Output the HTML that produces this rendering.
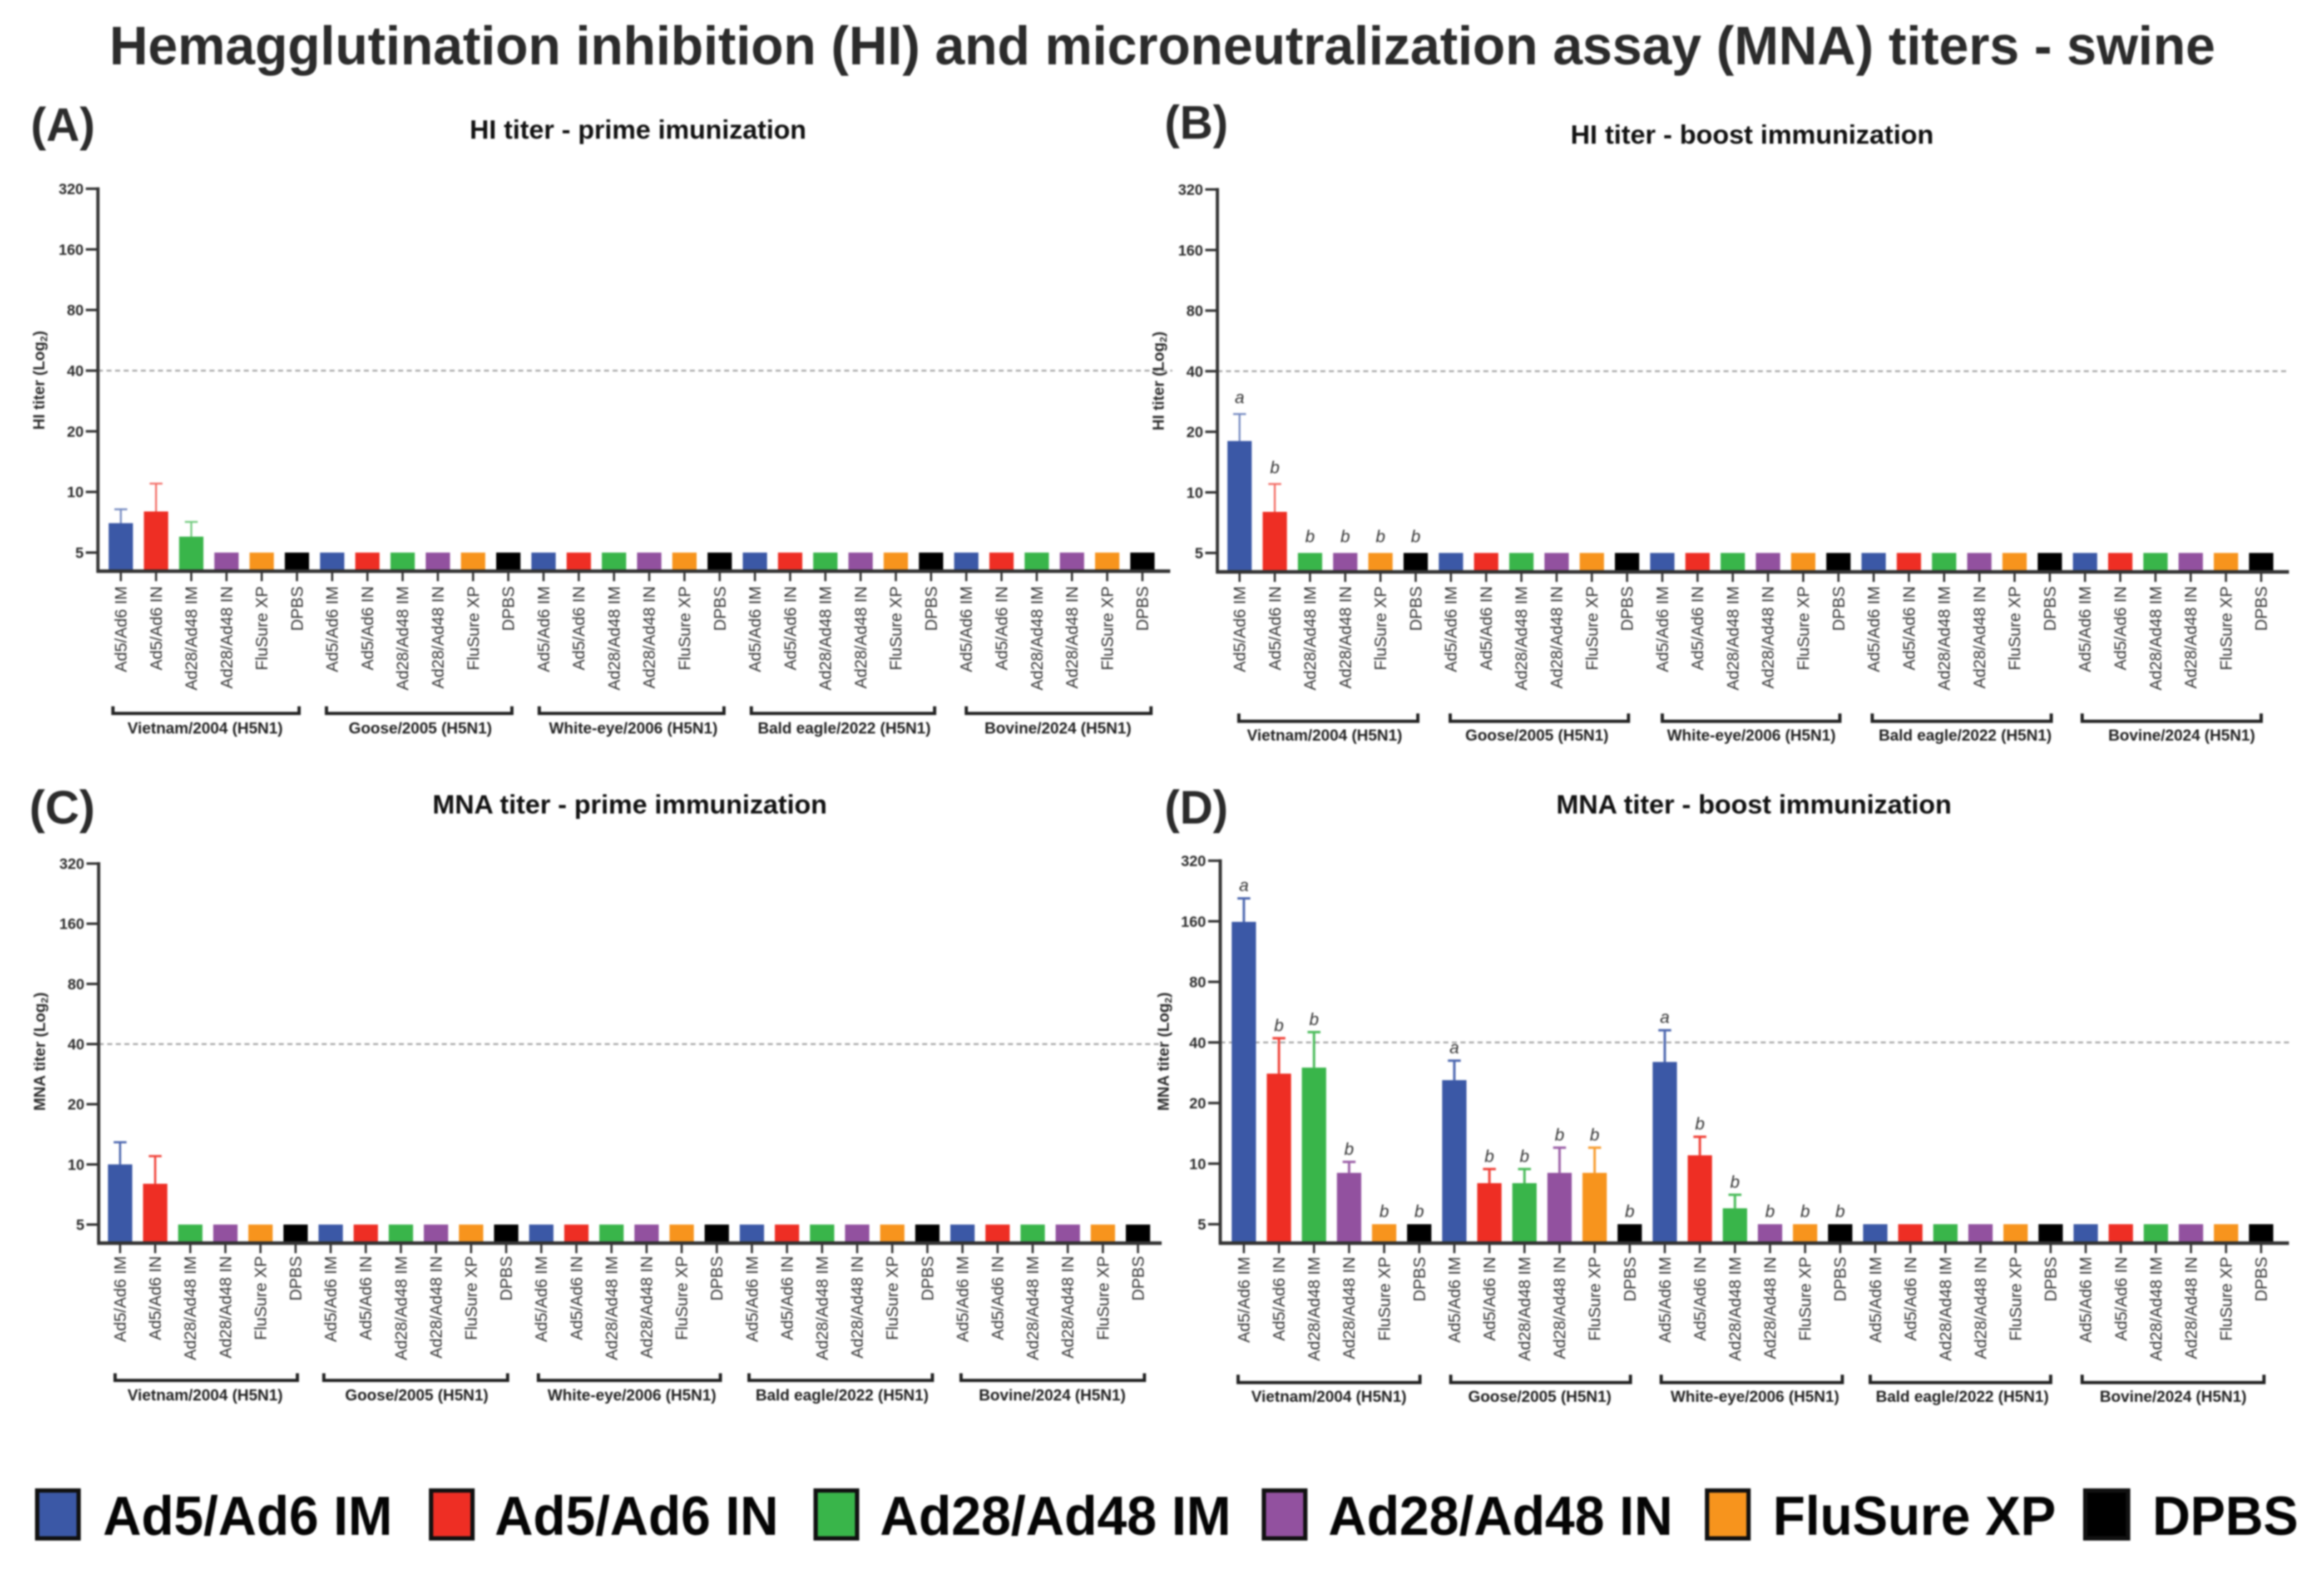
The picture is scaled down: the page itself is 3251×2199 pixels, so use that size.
<!DOCTYPE html>
<html lang="en">
<head>
<meta charset="utf-8">
<title>HI and MNA titers - swine</title>
<style>
  html, body { margin: 0; padding: 0; background: #fff; }
  body { width: 3251px; height: 2199px; overflow: hidden; }
  svg { display: block; filter: blur(1px); }
  text { font-family: "Liberation Sans", sans-serif; }
</style>
</head>
<body>
<svg id="figure" xmlns="http://www.w3.org/2000/svg" width="3251" height="2199" viewBox="0 0 3251 2199">
  <rect x="0" y="0" width="3251" height="2199" fill="#ffffff"/>
  <text x="153" y="90" font-size="76" font-weight="bold" fill="#2b2b2b" textLength="2946" lengthAdjust="spacingAndGlyphs">Hemagglutination inhibition (HI) and microneutralization assay (MNA) titers - swine</text>

  <text x="43" y="197" font-size="66" font-weight="bold" fill="#2b2b2b" textLength="90" lengthAdjust="spacingAndGlyphs">(A)</text>
  <text x="1629" y="194" font-size="66" font-weight="bold" fill="#2b2b2b" textLength="89" lengthAdjust="spacingAndGlyphs">(B)</text>
  <text x="41" y="1152" font-size="66" font-weight="bold" fill="#2b2b2b" textLength="92" lengthAdjust="spacingAndGlyphs">(C)</text>
  <text x="1629" y="1152" font-size="66" font-weight="bold" fill="#2b2b2b" textLength="89" lengthAdjust="spacingAndGlyphs">(D)</text>

  <text x="657" y="194" font-size="37" font-weight="bold" fill="#111111" textLength="471" lengthAdjust="spacingAndGlyphs">HI titer - prime imunization</text>
  <text x="2197" y="201" font-size="37" font-weight="bold" fill="#111111" textLength="508" lengthAdjust="spacingAndGlyphs">HI titer - boost immunization</text>
  <text x="605" y="1138" font-size="37" font-weight="bold" fill="#111111" textLength="552" lengthAdjust="spacingAndGlyphs">MNA titer - prime immunization</text>
  <text x="2177" y="1138" font-size="37" font-weight="bold" fill="#111111" textLength="553" lengthAdjust="spacingAndGlyphs">MNA titer - boost immunization</text>

  <g id="panels"></g>

  <g font-size="77" font-weight="bold" fill="#050505">
    <g>
      <rect x="52" y="2085" width="58" height="67" fill="#3b58a6" stroke="#111" stroke-width="6"/>
      <text x="144" y="2147" textLength="405" lengthAdjust="spacingAndGlyphs">Ad5/Ad6 IM</text>
    </g>
    <g>
      <rect x="603" y="2085" width="58" height="67" fill="#ee2e24" stroke="#111" stroke-width="6"/>
      <text x="692" y="2147" textLength="397" lengthAdjust="spacingAndGlyphs">Ad5/Ad6 IN</text>
    </g>
    <g>
      <rect x="1141" y="2085" width="58" height="67" fill="#39b54a" stroke="#111" stroke-width="6"/>
      <text x="1231" y="2147" textLength="491" lengthAdjust="spacingAndGlyphs">Ad28/Ad48 IM</text>
    </g>
    <g>
      <rect x="1768" y="2085" width="58" height="67" fill="#92519f" stroke="#111" stroke-width="6"/>
      <text x="1858" y="2147" textLength="482" lengthAdjust="spacingAndGlyphs">Ad28/Ad48 IN</text>
    </g>
    <g>
      <rect x="2388" y="2085" width="58" height="67" fill="#f7941d" stroke="#111" stroke-width="6"/>
      <text x="2480" y="2147" textLength="396" lengthAdjust="spacingAndGlyphs">FluSure XP</text>
    </g>
    <g>
      <rect x="2917" y="2085" width="60" height="67" fill="#000" stroke="#111" stroke-width="6"/>
      <text x="3011" y="2147" textLength="204" lengthAdjust="spacingAndGlyphs">DPBS</text>
    </g>
  </g>
</svg>

<script>
// ---- chart data ----
const vaccineGroups = ['Ad5/Ad6 IM', 'Ad5/Ad6 IN', 'Ad28/Ad48 IM', 'Ad28/Ad48 IN', 'FluSure XP', 'DPBS'];
const vaccineColors = ['#3b58a6', '#ee2e24', '#39b54a', '#92519f', '#f7941d', '#000000'];
const strainNames = ['Vietnam/2004 (H5N1)', 'Goose/2005 (H5N1)', 'White-eye/2006 (H5N1)', 'Bald eagle/2022 (H5N1)', 'Bovine/2024 (H5N1)'];
const yTickValues = [5, 10, 20, 40, 80, 160, 320];
const thresholdValue = 40;

const panelAValues = [7, 8, 6, 5, 5, 5,  5, 5, 5, 5, 5, 5,  5, 5, 5, 5, 5, 5,  5, 5, 5, 5, 5, 5,  5, 5, 5, 5, 5, 5];
const panelAErrors = [8.2, 11, 7.1, null, null, null,  null, null, null, null, null, null,  null, null, null, null, null, null,  null, null, null, null, null, null,  null, null, null, null, null, null];
const panelALetters = [];

const panelBValues = [18, 8, 5, 5, 5, 5,  5, 5, 5, 5, 5, 5,  5, 5, 5, 5, 5, 5,  5, 5, 5, 5, 5, 5,  5, 5, 5, 5, 5, 5];
const panelBErrors = [24.5, 11, null, null, null, null,  null, null, null, null, null, null,  null, null, null, null, null, null,  null, null, null, null, null, null,  null, null, null, null, null, null];
const panelBLetters = ['a', 'b', 'b', 'b', 'b', 'b'];

const panelCValues = [10, 8, 5, 5, 5, 5,  5, 5, 5, 5, 5, 5,  5, 5, 5, 5, 5, 5,  5, 5, 5, 5, 5, 5,  5, 5, 5, 5, 5, 5];
const panelCErrors = [12.9, 11, null, null, null, null,  null, null, null, null, null, null,  null, null, null, null, null, null,  null, null, null, null, null, null,  null, null, null, null, null, null];
const panelCLetters = [];

const panelDValues = [159, 28, 30, 9, 5, 5,  26, 8, 8, 9, 9, 5,  32, 11, 6, 5, 5, 5,  5, 5, 5, 5, 5, 5,  5, 5, 5, 5, 5, 5];
const panelDErrors = [208, 42, 45, 10.2, null, null,  32.5, 9.4, 9.4, 12, 12, null,  46, 13.6, 7, null, null, null,  null, null, null, null, null, null,  null, null, null, null, null, null];
const panelDLetters = ['a', 'b', 'b', 'b', 'b', 'b',  'a', 'b', 'b', 'b', 'b', 'b',  'a', 'b', 'b', 'b', 'b', 'b'];

const panelASeries = { values: panelAValues, errors: panelAErrors, letters: panelALetters };
const panelBSeries = { values: panelBValues, errors: panelBErrors, letters: panelBLetters };
const panelCSeries = { values: panelCValues, errors: panelCErrors, letters: panelCLetters };
const panelDSeries = { values: panelDValues, errors: panelDErrors, letters: panelDLetters };

// ---- layout, kept apart from the data ----
const layouts = [
  { id: 'a', series: panelASeries, yTitle: 'HI titer (Log', axisX: 137, axisEnd: 1637, y320: 264, y5: 773, base: 799, first: 169, step: 49.28,
    dashFrom: 137, dashTo: 1640, labelTop: 820, titleX: 54, titleY: 532, brTop: 988, brBottom: 998, groupY: 1026, errW: 2.6, errOp: 0.7, letterGap: 10,
    inset: [[-11, 3], [-8, 5], [-6, 6], [-5, 5], [0, 12]], groupX: [287, 588, 886, 1181, 1480] },
  { id: 'b', series: panelBSeries, yTitle: 'HI titer (Log', axisX: 1703, axisEnd: 3202, y320: 265, y5: 773.5, base: 800, first: 1734, step: 49.28,
    dashFrom: 1703, dashTo: 3203, labelTop: 820, titleX: 1620, titleY: 533, brTop: 998, brBottom: 1009, groupY: 1036, errW: 2.6, errOp: 0.7, letterGap: 15,
    inset: [[-1, 3], [-1, 2], [0, 2], [-2, 2], [-4, 0]], groupX: [1853, 2150, 2450, 2749, 3052] },
  { id: 'c', series: panelCSeries, yTitle: 'MNA titer (Log', axisX: 138, axisEnd: 1625, y320: 1208, y5: 1713, base: 1739, first: 168, step: 49.1,
    dashFrom: 138, dashTo: 1625, labelTop: 1757, titleX: 55, titleY: 1471, brTop: 1921, brBottom: 1931, groupY: 1959, errW: 3, errOp: 0.9, letterGap: 10,
    inset: [[-7, 2.5], [-9.6, 2], [-4, 5], [-4, 7], [-2, 9]], groupX: [287, 583, 884, 1178, 1472] },
  { id: 'd', series: panelDSeries, yTitle: 'MNA titer (Log', axisX: 1707, axisEnd: 3202, y320: 1204, y5: 1712.5, base: 1739, first: 1740, step: 49.07,
    dashFrom: 1707, dashTo: 3203, labelTop: 1758, titleX: 1627, titleY: 1471, brTop: 1923, brBottom: 1934, groupY: 1961, errW: 3.4, errOp: 0.9, letterGap: 10,
    inset: [[-8, 1], [-5, 1], [-5, 3], [-7, 0], [-5, 4]], groupX: [1859, 2154, 2455, 2745, 3040] }
];

const SVG_NS = 'http://www.w3.org/2000/svg';
const AXIS_COLOR = '#333333';
const BAR_WIDTH = 34;
const CAP_HALF = 9;

function make(tag, parent, props, text) {
  const node = document.createElementNS(SVG_NS, tag);
  Object.keys(props).forEach(function (k) { node.setAttribute(k, props[k]); });
  if (text !== undefined) node.textContent = text;
  parent.appendChild(node);
  return node;
}

function drawPanel(p) {
  const root = document.getElementById('panels');
  const stepY = (p.y5 - p.y320) / Math.log2(320 / 5);
  const yScale = function (v) { return p.y5 - Math.log2(v / 5) * stepY; };
  const xScale = function (i) { return p.first + i * p.step; };
  const s = p.series;

  const g = make('g', root, {});
  
  

  // threshold line sits behind the bars
  const dash = make('line', g, { x1: p.dashFrom, x2: p.dashTo, y1: yScale(thresholdValue), y2: yScale(thresholdValue), stroke: '#a6a6a6', 'stroke-width': 2.5, 'stroke-dasharray': '7 5' });
  
  

  // error bars
  s.errors.forEach(function (e, i) {
    if (e === null || e === undefined) return;
    const colour = vaccineColors[i % 6];
    const cx = xScale(i);
    const yTop = yScale(e);
    const err = make('path', g, { d: 'M' + cx + ' ' + yScale(s.values[i]) + 'V' + yTop + 'M' + (cx - CAP_HALF) + ' ' + yTop + 'H' + (cx + CAP_HALF), stroke: colour, 'stroke-width': p.errW, 'stroke-opacity': p.errOp, fill: 'none' });
    
    
  });

  // bars
  s.values.forEach(function (v, i) {
    const top = yScale(v);
    const bar = make('rect', g, { x: xScale(i) - BAR_WIDTH / 2, y: top, width: BAR_WIDTH, height: p.base - top, fill: vaccineColors[i % 6] });
    
    
  });

  // significance letters
  s.letters.forEach(function (l, i) {
    const topVal = (s.errors[i] === null || s.errors[i] === undefined) ? s.values[i] : s.errors[i];
    const letter = make('text', g, { x: xScale(i), y: yScale(topVal) - p.letterGap, 'font-size': 24, 'font-style': 'italic', 'text-anchor': 'middle', fill: '#333333' }, l);
    
    
  });

  // y axis
  const yAxis = make('line', g, { x1: p.axisX, x2: p.axisX, y1: p.y320 - 2, y2: p.base + 2, stroke: AXIS_COLOR, 'stroke-width': 4.5 });
  
  

  yTickValues.forEach(function (t) {
    const y = yScale(t);
    const tick = make('line', g, { x1: p.axisX - 17, x2: p.axisX, y1: y, y2: y, stroke: AXIS_COLOR, 'stroke-width': 3.5 });
    
    
    const tl = make('text', g, { x: p.axisX - 20, y: y + 7.5, 'font-size': 21, 'font-weight': 'bold', 'text-anchor': 'end', fill: '#2b2b2b' }, String(t));
    
    
  });

  // y axis title with a subscript 2
  const yt = make('text', g, { x: p.titleX + 8, y: p.titleY, 'font-size': 22, 'font-weight': 'bold', 'text-anchor': 'middle', fill: '#2b2b2b', transform: 'rotate(-90 ' + (p.titleX + 8) + ' ' + p.titleY + ')' }, p.yTitle);
  
  
  make('tspan', yt, { 'font-size': 14, dy: 4 }, '2');
  make('tspan', yt, { dy: -4 }, ')');

  // x axis
  const xAxis = make('line', g, { x1: p.axisX - 2, x2: p.axisEnd, y1: p.base, y2: p.base, stroke: AXIS_COLOR, 'stroke-width': 5 });
  
  

  s.values.forEach(function (v, i) {
    const cx = xScale(i);
    const tick = make('line', g, { x1: cx, x2: cx, y1: p.base, y2: p.base + 14, stroke: AXIS_COLOR, 'stroke-width': 3 });
    
    
    const lx = cx + 8;
    const lab = make('text', g, { x: lx, y: p.labelTop, 'font-size': 23, 'text-anchor': 'end', fill: '#333333', transform: 'rotate(-90 ' + lx + ' ' + p.labelTop + ')' }, vaccineGroups[i % 6]);
    
    
  });

  // strain brackets and labels
  strainNames.forEach(function (name, k) {
    const x1 = xScale(k * 6) + p.inset[k][0];
    const x2 = xScale(k * 6 + 5) + p.inset[k][1];
    const br = make('path', g, { d: 'M' + x1 + ' ' + p.brTop + 'V' + p.brBottom + 'H' + x2 + 'V' + p.brTop, fill: 'none', stroke: '#222222', 'stroke-width': 4.5 });
    
    
    const gl = make('text', g, { x: p.groupX[k], y: p.groupY, 'font-size': 22, 'font-weight': 'bold', 'text-anchor': 'middle', fill: '#222222' }, name);
    
    
  });
}

layouts.forEach(drawPanel);
</script>
</body>
</html>
